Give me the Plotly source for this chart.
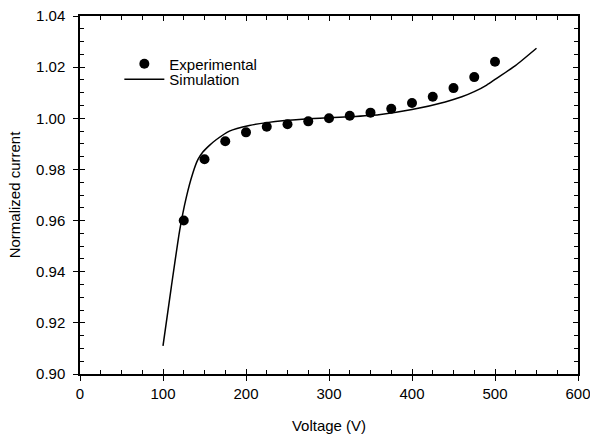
import plotly.graph_objects as go

exp_voltage = [125, 150, 175, 200, 225, 250, 275, 300, 325, 350, 375, 400, 425, 450, 475, 500]
exp_current = [0.960, 0.984, 0.991, 0.9945, 0.9967, 0.9977, 0.9988, 1.0000, 1.0010, 1.0022,
               1.0037, 1.0060, 1.0084, 1.0118, 1.0161, 1.0221]

sim_voltage = [100, 110, 120, 128, 136, 142, 148, 156, 164, 180, 204, 225, 275, 325, 360, 400,
               440, 460, 475, 490, 500, 525, 550]
sim_current = [0.911, 0.934, 0.956, 0.969, 0.9786, 0.9838, 0.9868, 0.9894, 0.9916, 0.9950,
               0.9972, 0.9983, 0.9998, 1.0006, 1.0014, 1.0034, 1.0064, 1.0084, 1.0104, 1.0130,
               1.0152, 1.0207, 1.0274]

x_ticks = [0, 100, 200, 300, 400, 500, 600]
y_ticks = [0.90, 0.92, 0.94, 0.96, 0.98, 1.00, 1.02, 1.04]

FONT = "Liberation Sans, Arial, sans-serif"

fig = go.Figure()
fig.add_trace(go.Scatter(
    x=exp_voltage, y=exp_current, mode="markers", name="Experimental",
    marker=dict(color="black", size=10), legend="legend",
))
fig.add_trace(go.Scatter(
    x=sim_voltage, y=sim_current, mode="lines", name="Simulation",
    line=dict(color="black", width=1.5, shape="spline", smoothing=0.5),
    xaxis="x2", yaxis="y2", legend="legend2",
))

common_x = dict(range=[0, 600], showgrid=False, zeroline=False, tickvals=x_ticks,
                linecolor="black", linewidth=1.5, tickcolor="black", automargin=False,
                ticklabeloverflow="allow")
common_y = dict(range=[0.90, 1.04], showgrid=False, zeroline=False, tickvals=y_ticks,
                linecolor="black", linewidth=1.5, tickcolor="black", automargin=False,
                ticklabeloverflow="allow")

leg_common = dict(xanchor="left", yanchor="middle", bgcolor="rgba(0,0,0,0)",
                  font=dict(size=15, family=FONT), itemwidth=40, borderwidth=0)

fig.update_layout(
    width=590, height=437,
    margin=dict(l=80, r=12, t=16, b=63),
    paper_bgcolor="white", plot_bgcolor="white",
    font=dict(family=FONT, size=15, color="black"),
    xaxis=dict(**common_x, ticks="outside", ticklen=5, tickwidth=1.2, showline=True, mirror=True,
               ticktext=[str(v) for v in x_ticks],
               title=dict(text="Voltage (V)", font=dict(size=15), standoff=20)),
    yaxis=dict(**common_y, ticks="outside", ticklen=5, tickwidth=1.2, showline=True, mirror=True,
               tickformat=".2f", ticklabelstandoff=5,
               title=dict(text="Normalized current", font=dict(size=15), standoff=12)),
    xaxis2=dict(**common_x, overlaying="x", ticks="inside", ticklen=5, tickwidth=1.2,
                showticklabels=False, mirror="ticks", showline=True,
                minor=dict(ticks="inside", dtick=25, ticklen=4, tickwidth=1, tickcolor="black")),
    yaxis2=dict(**common_y, overlaying="y", ticks="inside", ticklen=5, tickwidth=1.2,
                showticklabels=False, mirror="ticks", showline=True,
                minor=dict(ticks="inside", dtick=0.005, ticklen=4, tickwidth=1, tickcolor="black")),
    legend=dict(**leg_common, x=0.079, y=0.866),
    legend2=dict(**leg_common, x=0.079, y=0.8226),
    showlegend=True,
)

fig.write_html("out.html")
